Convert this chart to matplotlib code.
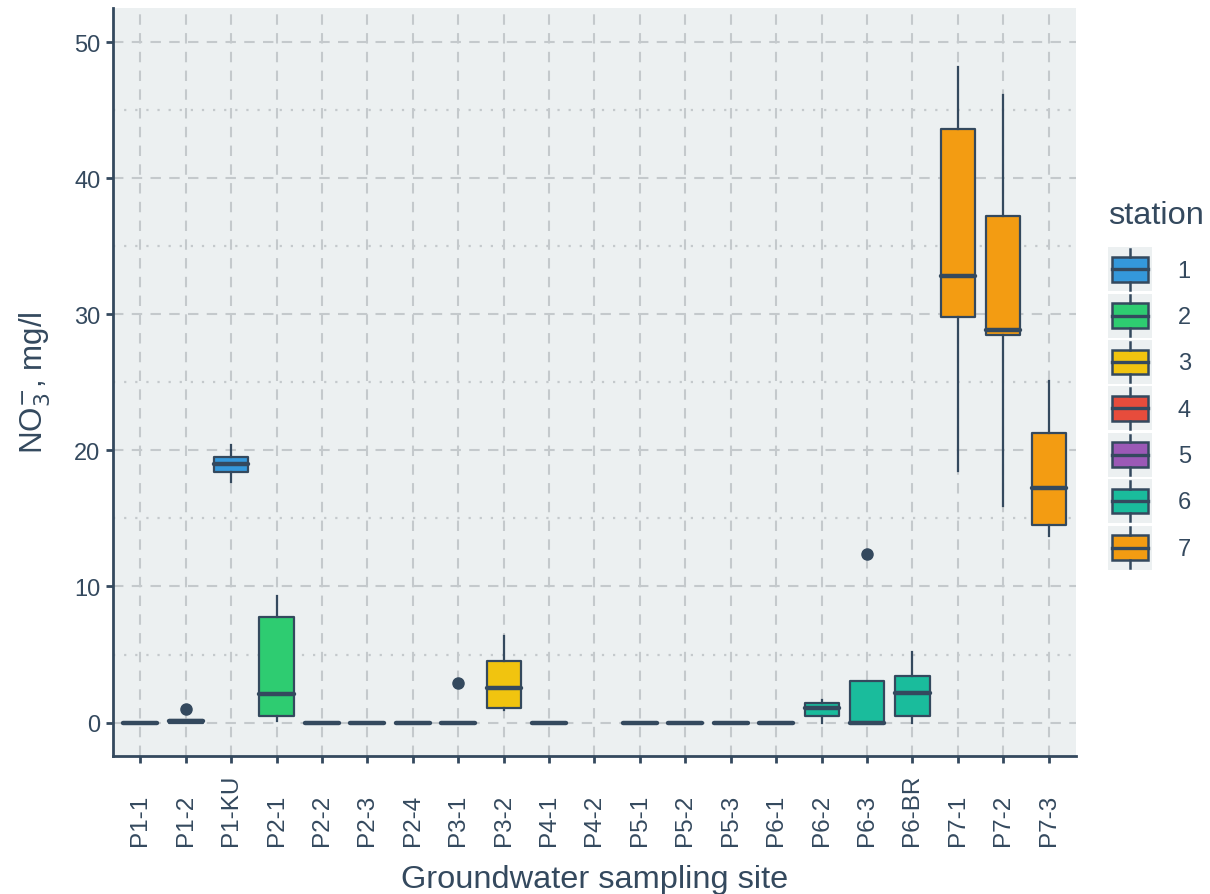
import numpy as np
import matplotlib
matplotlib.use("Agg")
import matplotlib.pyplot as plt
from matplotlib.patches import Rectangle
from matplotlib.lines import Line2D
from matplotlib.legend_handler import HandlerBase

plt.rcParams['font.family'] = ['Liberation Sans', 'DejaVu Sans']

# Sampling sites and their station number
sites = ['P1-1', 'P1-2', 'P1-KU', 'P2-1', 'P2-2', 'P2-3', 'P2-4', 'P3-1', 'P3-2',
         'P4-1', 'P4-2', 'P5-1', 'P5-2', 'P5-3', 'P6-1', 'P6-2', 'P6-3', 'P6-BR',
         'P7-1', 'P7-2', 'P7-3']
station = [1, 1, 1, 2, 2, 2, 2, 3, 3, 4, 4, 5, 5, 5, 6, 6, 6, 6, 7, 7, 7]

# Box statistics of NO3- (mg/l) per site; nan = no measurements
nan = np.nan
whislo = [0, 0, 17.65, 0.12, 0, 0, 0, 0, 0.90, 0, nan, 0, 0, 0, 0, 0.0, 0, 0.0, 18.5, 15.9, 13.7]
q1 = [0, 0, 18.38, 0.49, 0, 0, 0, 0, 1.10, 0, nan, 0, 0, 0, 0, 0.49, 0, 0.49, 29.8, 28.5, 14.54]
med = [0, 0.1, 18.97, 2.08, 0, 0, 0, 0, 2.52, 0, nan, 0, 0, 0, 0, 1.1, 0, 2.15, 32.8, 28.85, 17.27]
q3 = [0, 0.2, 19.53, 7.76, 0, 0, 0, 0, 4.53, 0, nan, 0, 0, 0, 0, 1.44, 3.06, 3.43, 43.6, 37.2, 21.28]
whishi = [0, 0.2, 20.41, 9.31, 0, 0, 0, 0, 6.37, 0, nan, 0, 0, 0, 0, 1.64, 3.06, 5.22, 48.2, 46.1, 25.07]
outliers = {'P1-2': [1.03], 'P3-1': [2.94], 'P6-3': [12.42]}

station_labels = ['1', '2', '3', '4', '5', '6', '7']
station_colors = ['#3498db', '#2ecc71', '#f1c40f', '#e74c3c', '#9b59b6', '#1abc9c', '#f39c12']

DARK = '#34495e'
PANEL = '#ecf0f1'
GRID = '#c4c9cc'

fig = plt.figure(figsize=(12.1, 8.95), dpi=100)
ax = fig.add_axes([113 / 1210, 1 - 757 / 895, (1076 - 113) / 1210, (757 - 9.3) / 895])
ax.set_facecolor(PANEL)

stats, positions, colors = [], [], []
for i, s in enumerate(sites):
    if np.isnan(med[i]):
        continue
    stats.append(dict(whislo=whislo[i], q1=q1[i], med=med[i], q3=q3[i],
                      whishi=whishi[i], fliers=outliers.get(s, []), label=s))
    positions.append(i)
    colors.append(station_colors[station[i] - 1])

bp = ax.bxp(stats, positions=positions, widths=0.75, patch_artist=True,
            showcaps=False, manage_ticks=False, zorder=3,
            boxprops=dict(edgecolor=DARK, linewidth=1.6),
            medianprops=dict(color=DARK, linewidth=3.2, solid_capstyle='round'),
            whiskerprops=dict(color=DARK, linewidth=1.6),
            flierprops=dict(marker='o', markerfacecolor=DARK, markeredgecolor=DARK,
                            markersize=8, linestyle='none'))
for patch, c in zip(bp['boxes'], colors):
    patch.set_facecolor(c)
    patch.set_joinstyle('round')

ax.set_xlim(-0.6, len(sites) - 1 + 0.6)
ax.set_ylim(-2.46, 52.5)

# grid: dashed major, dotted minor (horizontal only)
ax.set_yticks([0, 10, 20, 30, 40, 50])
ax.set_yticks([5, 15, 25, 35, 45], minor=True)
ax.set_xticks(range(len(sites)))
ax.grid(True, which='major', axis='both', color=GRID, linestyle=(0, (5, 4)), linewidth=1.5, zorder=0)
ax.grid(True, which='minor', axis='y', color=GRID, linestyle=(0, (1, 4)), linewidth=1.6, zorder=0)
ax.set_axisbelow(True)
ax.tick_params(which='minor', left=False)

for side in ['top', 'right']:
    ax.spines[side].set_visible(False)
for side in ['left', 'bottom']:
    ax.spines[side].set_color(DARK)
    ax.spines[side].set_linewidth(2.0)

ax.tick_params(axis='both', which='major', color=DARK, width=2.0, length=5,
               labelcolor=DARK)
ax.tick_params(axis='y', labelsize=17, pad=4)
ax.set_xticklabels(sites, rotation=90, va='bottom', ha='center', fontsize=17.5)
ax.tick_params(axis='x', pad=59)

ax.set_xlabel('Groundwater sampling site', fontsize=23.4, color=DARK)
ax.xaxis.set_label_coords(0.5, -0.1445)
ax.xaxis.label.set_va('top')
ax.set_ylabel(r'NO$_3^{-}$, mg/l', fontsize=22.5, color=DARK)
ax.yaxis.set_label_coords(-0.062, 0.5)


class BoxKeyHandler(HandlerBase):
    def __init__(self, color):
        super().__init__()
        self.color = color

    def create_artists(self, legend, orig_handle, xdescent, ydescent, width, height,
                       fontsize, trans):
        x0, y0 = -xdescent, -ydescent
        bg = Rectangle((x0, y0), width, height, facecolor=PANEL, edgecolor='none',
                       transform=trans)
        bx = Rectangle((x0 + 0.09 * width, y0 + 0.22 * height), 0.82 * width, 0.56 * height,
                       facecolor=self.color, edgecolor=DARK, linewidth=1.8, transform=trans)
        cx = x0 + width / 2
        wt = Line2D([cx, cx], [y0 + 0.78 * height, y0 + 0.96 * height], color=DARK,
                    linewidth=1.8, transform=trans)
        wb = Line2D([cx, cx], [y0 + 0.04 * height, y0 + 0.22 * height], color=DARK,
                    linewidth=1.8, transform=trans)
        md = Line2D([x0 + 0.09 * width, x0 + 0.91 * width], [y0 + 0.5 * height] * 2,
                    color=DARK, linewidth=2.4, transform=trans)
        return [bg, bx, wt, wb, md]


handles = [Rectangle((0, 0), 1, 1, facecolor=c) for c in station_colors]
hmap = {h: BoxKeyHandler(c) for h, c in zip(handles, station_colors)}
leg = fig.legend(handles, station_labels, handler_map=hmap, title='station',
                 loc='upper left', bbox_to_anchor=(1103 / 1210, 1 - 196 / 895),
                 borderaxespad=0, frameon=False, fontsize=17, title_fontsize=23.4,
                 handlelength=1.86, handleheight=2.49, labelspacing=0.1,
                 handletextpad=1.1, borderpad=0.2)
leg.get_title().set_color(DARK)
leg._legend_box.align = 'left'
leg._legend_box.sep = 12.7
for t in leg.get_texts():
    t.set_color(DARK)

fig.savefig('out.png', dpi=100, facecolor='white')
